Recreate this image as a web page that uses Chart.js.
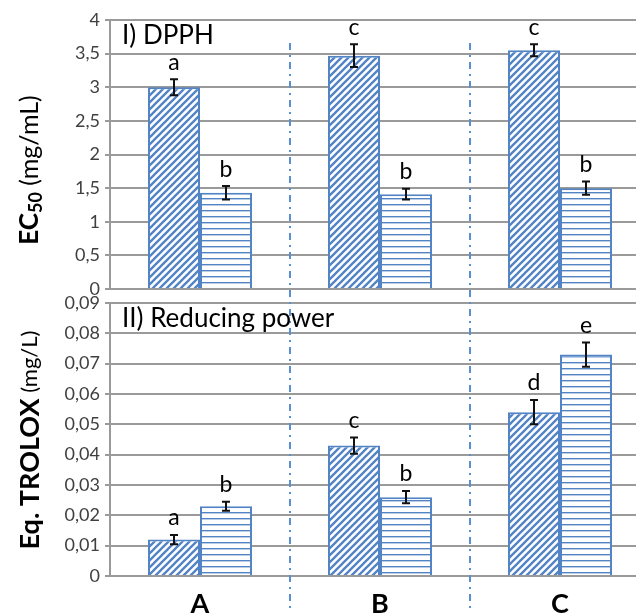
<!DOCTYPE html>
<html>
<head>
<meta charset="utf-8">
<script src="https://cdn.jsdelivr.net/npm/chart.js@4"></script>
<style>
    body { margin: 0; background: #fff; }
    #wrap { position: relative; width: 636px; height: 613px; overflow: hidden; }
    canvas { position: absolute; left: 0; }
    #top-chart { top: 0; }
    #bottom-chart { top: 290px; }
</style>
</head>
<body>
<div id="wrap">
    <canvas id="top-chart" width="660" height="300"></canvas>
    <canvas id="bottom-chart" width="660" height="323"></canvas>
</div>
<script>
// Data
const categories = ['A', 'B', 'C'];

// I) DPPH - EC50 (mg/mL)
const dpphDiag = [3.00, 3.47, 3.55];
const dpphDiagErr = [0.12, 0.17, 0.09];
const dpphDiagLetters = ['a', 'c', 'c'];
const dpphHoriz = [1.43, 1.41, 1.50];
const dpphHorizErr = [0.10, 0.08, 0.10];
const dpphHorizLetters = ['b', 'b', 'b'];
const dpphTicks = [0, 0.5, 1, 1.5, 2, 2.5, 3, 3.5, 4];

// II) Reducing power - Eq. TROLOX (mg/L)
const redDiag = [0.012, 0.043, 0.054];
const redDiagErr = [0.0015, 0.0027, 0.004];
const redDiagLetters = ['a', 'c', 'd'];
const redHoriz = [0.023, 0.026, 0.073];
const redHorizErr = [0.0015, 0.002, 0.004];
const redHorizLetters = ['b', 'b', 'e'];
const redTicks = [0, 0.01, 0.02, 0.03, 0.04, 0.05, 0.06, 0.07, 0.08, 0.09];

const BLUE = '#5283c4';
const GRID = '#9a9a9a';
const FONT = 'Lato, "Open Sans", sans-serif';

// Hatch patterns (white ground so gridlines don't show through)
function diagPattern() {
    const s = 7;
    const c = document.createElement('canvas');
    c.width = s; c.height = s;
    const g = c.getContext('2d');
    g.fillStyle = '#fff';
    g.fillRect(0, 0, s, s);
    g.strokeStyle = BLUE;
    g.lineWidth = 2.3;
    g.beginPath();
    g.moveTo(0, s); g.lineTo(s, 0);
    g.moveTo(-1, 1); g.lineTo(1, -1);
    g.moveTo(s - 1, s + 1); g.lineTo(s + 1, s - 1);
    g.stroke();
    return g.createPattern(c, 'repeat');
}

function horizPattern() {
    const c = document.createElement('canvas');
    c.width = 4; c.height = 6;
    const g = c.getContext('2d');
    g.fillStyle = '#fff';
    g.fillRect(0, 0, 4, 6);
    g.fillStyle = BLUE;
    g.fillRect(0, 0, 4, 1.4);
    return g.createPattern(c, 'repeat');
}

function commaLabel(v, digits) {
    if (Math.abs(v) < 1e-9) return '0';
    return v.toFixed(digits).replace(/0+$/, '').replace(/\.$/, '').replace('.', ',');
}

// Draws error bars, letters, separators, titles
const extras = {
    id: 'extras',
    afterDraw(chart, args, opts) {
        const ctx = chart.ctx;
        const area = chart.chartArea;
        const x = chart.scales.x;
        const y = chart.scales.y;

        // dash-dot separators
        ctx.save();
        ctx.strokeStyle = '#5b8fd3';
        ctx.lineWidth = 2;
        ctx.setLineDash([7, 5, 2, 5]);
        for (let i = 0; i < categories.length - 1; i++) {
            const sx = Math.round((x.getPixelForValue(i) + x.getPixelForValue(i + 1)) / 2);
            ctx.beginPath();
            ctx.moveTo(sx, opts.sepTop);
            ctx.lineTo(sx, chart.height);
            ctx.stroke();
        }
        ctx.restore();

        // error bars + letters
        ctx.save();
        opts.series.forEach((s, di) => {
            const meta = chart.getDatasetMeta(di);
            meta.data.forEach((bar, i) => {
                const cx = Math.round(bar.x);
                const yt = y.getPixelForValue(s.values[i] + s.errors[i]);
                const yb = y.getPixelForValue(s.values[i] - s.errors[i]);
                ctx.strokeStyle = '#111';
                ctx.lineWidth = 2;
                ctx.beginPath();
                ctx.moveTo(cx, yt); ctx.lineTo(cx, yb);
                ctx.moveTo(cx - 4, yt); ctx.lineTo(cx + 4, yt);
                ctx.moveTo(cx - 4, yb); ctx.lineTo(cx + 4, yb);
                ctx.stroke();
                ctx.fillStyle = '#000';
                ctx.font = '23px ' + FONT;
                ctx.textAlign = 'center';
                ctx.textBaseline = 'middle';
                ctx.fillText(s.letters[i], cx, yt - 17);
            });
        });
        ctx.restore();

        // panel title
        ctx.save();
        ctx.fillStyle = '#000';
        ctx.font = opts.titleSize + 'px ' + FONT;
        ctx.textAlign = 'left';
        ctx.textBaseline = 'middle';
        ctx.fillText(opts.title, area.left + 12, area.top + opts.titleDy);
        ctx.restore();

        // rotated axis title (mixed fonts)
        ctx.save();
        ctx.translate(30, opts.yTitleCenter);
        ctx.rotate(-Math.PI / 2);
        ctx.fillStyle = '#000';
        ctx.textBaseline = 'middle';
        ctx.textAlign = 'left';
        let total = 0;
        opts.yTitle.forEach(p => { ctx.font = p.font; total += ctx.measureText(p.text).width; });
        let px = -total / 2;
        opts.yTitle.forEach(p => {
            ctx.font = p.font;
            ctx.fillText(p.text, px, p.dy || 0);
            px += ctx.measureText(p.text).width;
        });
        ctx.restore();
    }
};

function makeChart(id, cfg) {
    return new Chart(document.getElementById(id), {
        type: 'bar',
        data: {
            labels: categories,
            datasets: [
                { data: cfg.diag, backgroundColor: diagPattern(), borderColor: BLUE, borderWidth: 2 },
                { data: cfg.horiz, backgroundColor: horizPattern(), borderColor: BLUE, borderWidth: 2 }
            ]
        },
        options: {
            responsive: false,
            animation: false,
            categoryPercentage: 0.578,
            barPercentage: 1,
            layout: { padding: cfg.padding },
            plugins: {
                legend: { display: false },
                tooltip: { enabled: false },
                extras: cfg.extras
            },
            scales: {
                x: {
                    display: cfg.showX,
                    grid: { display: false },
                    border: { display: false },
                    ticks: {
                        color: '#000',
                        padding: 4,
                        font: { family: FONT, size: 27, weight: 'bold' }
                    },
                    afterFit: s => {
                        s.height = cfg.showX ? 37 : 0;
                        s.paddingLeft = 0; s.paddingRight = 0;
                    }
                },
                y: {
                    min: 0,
                    max: cfg.ticks[cfg.ticks.length - 1],
                    afterBuildTicks: s => { s.ticks = cfg.ticks.map(v => ({ value: v })); },
                    afterFit: s => {
                        s.width = 110;
                        s.paddingTop = 0; s.paddingBottom = 0;
                    },
                    grid: { color: GRID, lineWidth: 2, tickLength: 5 },
                    border: { color: GRID, width: 2 },
                    ticks: {
                        color: '#404040',
                        padding: 5,
                        font: { family: FONT, size: 18 },
                        callback: v => commaLabel(v, cfg.digits)
                    }
                }
            }
        },
        plugins: [extras]
    });
}

makeChart('top-chart', {
    diag: dpphDiag,
    horiz: dpphHoriz,
    ticks: dpphTicks,
    digits: 1,
    showX: false,
    padding: { top: 20, bottom: 11, left: 0, right: 10 },
    extras: {
        sepTop: 43,
        title: 'I) DPPH',
        titleSize: 26,
        titleDy: 16,
        yTitleCenter: 170,
        yTitle: [
            { text: 'EC', font: 'bold 26px ' + FONT },
            { text: '50', font: 'bold 18px ' + FONT, dy: 6 },
            { text: ' (mg/mL)', font: '25px ' + FONT }
        ],
        series: [
            { values: dpphDiag, errors: dpphDiagErr, letters: dpphDiagLetters },
            { values: dpphHoriz, errors: dpphHorizErr, letters: dpphHorizLetters }
        ]
    }
});

makeChart('bottom-chart', {
    diag: redDiag,
    horiz: redHoriz,
    ticks: redTicks,
    digits: 2,
    showX: true,
    padding: { top: 13, bottom: 0, left: 0, right: 10 },
    extras: {
        sepTop: 0,
        title: 'II) Reducing power',
        titleSize: 26,
        titleDy: 16,
        yTitleCenter: 150,
        yTitle: [
            { text: 'Eq. TROLOX', font: 'bold 27px ' + FONT },
            { text: ' (mg/L)', font: '22px ' + FONT }
        ],
        series: [
            { values: redDiag, errors: redDiagErr, letters: redDiagLetters },
            { values: redHoriz, errors: redHorizErr, letters: redHorizLetters }
        ]
    }
});
</script>
</body>
</html>
